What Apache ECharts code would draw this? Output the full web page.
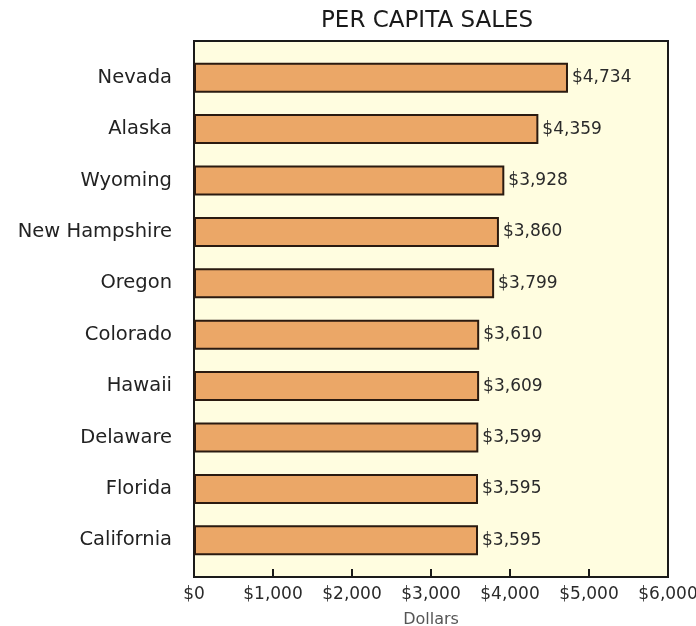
<!DOCTYPE html>
<html>
<head>
<meta charset="utf-8">
<script src="https://cdn.jsdelivr.net/npm/echarts@6/dist/echarts.min.js"></script>
<style>html,body{margin:0;padding:0;background:#fff}#c{width:696px;height:626px}</style>
</head>
<body>
<div id="c"></div>
<script>
const states = ['Nevada','Alaska','Wyoming','New Hampshire','Oregon','Colorado','Hawaii','Delaware','Florida','California'];
const sales = [4734, 4359, 3928, 3860, 3799, 3610, 3609, 3599, 3595, 3595];
const tickLabels = ['$0','$1,000','$2,000','$3,000','$4,000','$5,000','$6,000'];
const titleText = 'PER CAPITA SALES';
const axisTitle = 'Dollars';

const FONT = 'DejaVu Sans';
const chart = echarts.init(document.getElementById('c'));
const fmt = v => '$' + v.toLocaleString('en-US');
chart.setOption({
  animation: false,
  title: {
    text: titleText, left: 316, top: 5,
    textStyle: { fontFamily: FONT, fontSize: 23, fontWeight: 'normal', color: '#1a1a1a' }
  },
  grid: [
    { left: 194, right: 28, top: 41, bottom: 49, show: true, backgroundColor: '#FFFDE0', borderColor: '#1a1a1a', borderWidth: 2, outerBoundsMode: 'none', containLabel: false },
    { left: 194, right: 28, top: 52, bottom: 60, outerBoundsMode: 'none', containLabel: false }
  ],
  xAxis: [
    {
      gridIndex: 0, type: 'value', min: 0, max: 6000, interval: 1000,
      axisLine: { show: false },
      axisTick: { show: true, inside: true, length: 8, lineStyle: { color: '#1a1a1a', width: 2 } },
      splitLine: { show: false },
      axisLabel: { margin: 9, fontFamily: FONT, fontSize: 17, color: '#2a2a2a',
        formatter: v => tickLabels[Math.round(v / 1000)] },
      name: axisTitle, nameLocation: 'middle', nameGap: 35,
      nameTextStyle: { fontFamily: FONT, fontSize: 16, color: '#555' }
    },
    { gridIndex: 1, type: 'value', min: 0, max: 6000, show: false }
  ],
  yAxis: [
    { gridIndex: 0, type: 'value', show: false },
    {
      gridIndex: 1, type: 'category', data: states, inverse: true,
      axisLine: { show: false }, axisTick: { show: false },
      axisLabel: { margin: 22, fontFamily: FONT, fontSize: 19.5, color: '#222' }
    }
  ],
  series: [{
    type: 'bar', xAxisIndex: 1, yAxisIndex: 1, data: sales, barWidth: 30,
    itemStyle: { color: '#EBA767', borderColor: '#2a1a10', borderWidth: 2 },
    label: { show: true, position: 'right', distance: 4, fontFamily: FONT, fontSize: 17, color: '#2a2a2a',
      formatter: p => fmt(p.value) }
  }]
});
</script>
</body>
</html>
